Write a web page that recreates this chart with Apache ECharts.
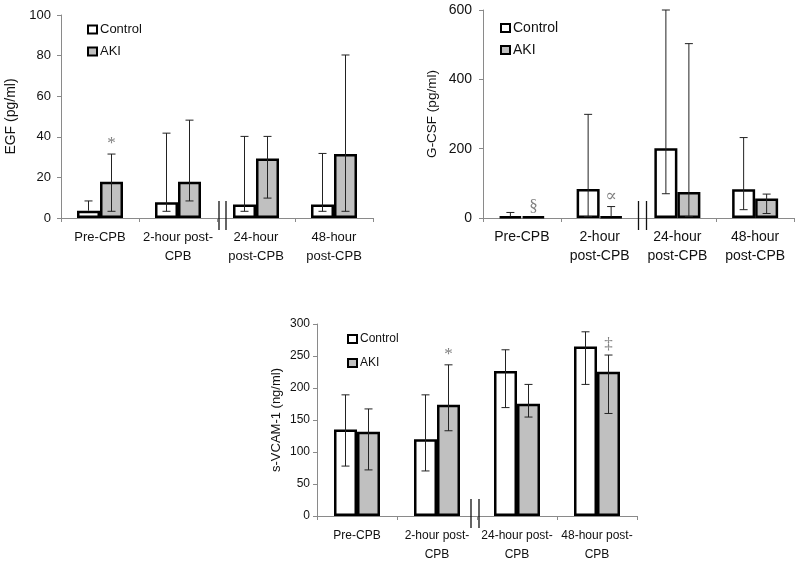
<!DOCTYPE html>
<html>
<head>
<meta charset="utf-8">
<script src="https://cdn.jsdelivr.net/npm/echarts@6/dist/echarts.min.js"></script>
<style>
  html, body { margin: 0; padding: 0; background: #fff; }
  #main { width: 800px; height: 564px; }
</style>
</head>
<body>
<div id="main"></div>
<script>
// ---- data ----
var egfCategories = ['Pre-CPB', '2-hour post-\nCPB', '24-hour\npost-CPB', '48-hour\npost-CPB'];
var egfControl   = [3.6, 7.7, 6.6, 6.6];
var egfControlLo = [null, 3.3, 3.3, 3.3];
var egfControlHi = [8.4, 41.8, 40.2, 31.8];
var egfAki   = [17.9, 17.9, 29.3, 31.5];
var egfAkiLo = [3.3, 8.4, 9.8, 3.3];
var egfAkiHi = [31.5, 48.2, 40.2, 80.3];
var egfMarks = ['*', '', '', ''];
var egfTicks = [0, 100, 20];

var gcsfCategories = ['Pre-CPB', '2-hour\npost-CPB', '24-hour\npost-CPB', '48-hour\npost-CPB'];
var gcsfControl   = [4, 84, 201, 83];
var gcsfControlLo = [null, 4, 70, 24];
var gcsfControlHi = [16, 299, 600, 232];
var gcsfAki   = [4, 4, 75, 56];
var gcsfAkiLo = [null, null, 4, 13];
var gcsfAkiHi = [null, 33, 503, 69];
var gcsfMarks = ['\u00a7', '\u221d', '', ''];
var gcsfTicks = [0, 600, 200];

var vcamCategories = ['Pre-CPB', '2-hour post-\nCPB', '24-hour post-\nCPB', '48-hour post-\nCPB'];
var vcamControl   = [135, 120, 226.5, 265];
var vcamControlLo = [78, 70.4, 169.4, 205.6];
var vcamControlHi = [189.3, 189.3, 259.7, 287.8];
var vcamAki   = [131.6, 174, 175.5, 225.5];
var vcamAkiLo = [72, 133.2, 154.6, 160.2];
var vcamAkiHi = [167.3, 236.2, 205.6, 251.5];
var vcamMarks = ['', '*', '', '\u2021'];
var vcamTicks = [0, 300, 50];

var FONT = '"Liberation Sans", Arial, sans-serif';
var BAR_W = 23;

var panels = [
    { cats: egfCategories, c: egfControl, cLo: egfControlLo, cHi: egfControlHi,
      a: egfAki, aLo: egfAkiLo, aHi: egfAkiHi, marks: egfMarks, ticks: egfTicks,
      name: 'EGF (pg/ml)', grid: { left: 61, top: 15, width: 312, height: 203 },
      fs: 13, nameFs: 14, yMargin: 10, nameGap: 43, legend: { left: 82, top: 18 }, legendGap: 9, breakOff: [2, 9] },
    { cats: gcsfCategories, c: gcsfControl, cLo: gcsfControlLo, cHi: gcsfControlHi,
      a: gcsfAki, aLo: gcsfAkiLo, aHi: gcsfAkiHi, marks: gcsfMarks, ticks: gcsfTicks,
      name: 'G-CSF (pg/ml)', grid: { left: 483, top: 10, width: 311, height: 208 },
      fs: 14, nameFs: 13.5, yMargin: 11, nameGap: 44, legend: { left: 495, top: 16 }, legendGap: 8, breakOff: [0, 8] },
    { cats: vcamCategories, c: vcamControl, cLo: vcamControlLo, cHi: vcamControlHi,
      a: vcamAki, aLo: vcamAkiLo, aHi: vcamAkiHi, marks: vcamMarks, ticks: vcamTicks,
      name: 's-VCAM-1 (ng/ml)', grid: { left: 317, top: 324, width: 320, height: 195 },
      fs: 12, nameFs: 13, yMargin: 7, nameGap: 34, legend: { left: 342, top: 328 }, legendGap: 12, breakOff: [-6, 2] }
];

function errorBars(p, k, vals, lo, hi, side) {
    return {
        type: 'custom', xAxisIndex: k, yAxisIndex: k, z: 5, silent: true,
        data: vals.map(function (v, i) { return [i, v]; }),
        renderItem: function (params, api) {
            var i = params.dataIndex;
            if (hi[i] == null) return null;
            var dx = side * BAR_W / 2;
            var top = api.coord([i, hi[i]]);
            var bot = api.coord([i, lo[i] == null ? vals[i] : lo[i]]);
            var x = top[0] + dx;
            var st = { stroke: '#222', lineWidth: 1 };
            var kids = [
                { type: 'line', shape: { x1: x, y1: top[1], x2: x, y2: bot[1] }, style: st },
                { type: 'line', shape: { x1: x - 4, y1: top[1], x2: x + 4, y2: top[1] }, style: st }
            ];
            if (lo[i] != null) {
                kids.push({ type: 'line', shape: { x1: x - 4, y1: bot[1], x2: x + 4, y2: bot[1] }, style: st });
            }
            return { type: 'group', children: kids };
        }
    };
}

function markSeries(p, k) {
    return {
        type: 'custom', xAxisIndex: k, yAxisIndex: k, z: 6, silent: true,
        data: p.marks.map(function (m, i) { return [i, p.a[i]]; }),
        renderItem: function (params, api) {
            var i = params.dataIndex;
            if (!p.marks[i]) return null;
            var top = p.aHi[i] == null ? p.a[i] : p.aHi[i];
            var pt = api.coord([i, top]);
            return {
                type: 'text',
                style: {
                    text: p.marks[i], x: pt[0] + BAR_W / 2, y: pt[1] - 2,
                    align: 'center', verticalAlign: 'bottom',
                    fontFamily: '"Liberation Serif", "DejaVu Serif", serif',
                    fontSize: 17, fill: '#808080'
                }
            };
        }
    };
}

function breakSeries(p, k) {
    return {
        type: 'custom', xAxisIndex: k, yAxisIndex: k, z: 7, silent: true,
        data: [[0, 0]],
        renderItem: function (params, api) {
            var a = api.coord([1, 0]);
            var b = api.coord([2, 0]);
            var mx = (a[0] + b[0]) / 2;
            var st = { stroke: '#111', lineWidth: 1.3 };
            return {
                type: 'group',
                children: p.breakOff.map(function (o) {
                    return { type: 'line', shape: { x1: mx + o, y1: a[1] - 17, x2: mx + o, y2: a[1] + 12 }, style: st };
                })
            };
        }
    };
}

var grid = [], xAxis = [], yAxis = [], legend = [], series = [];

panels.forEach(function (p, k) {
    grid.push(p.grid);
    xAxis.push({
        type: 'category', gridIndex: k, data: p.cats,
        axisLine: { lineStyle: { color: '#8a8a8a', width: 1 } },
        axisTick: { show: true, length: 4, lineStyle: { color: '#8a8a8a' } },
        axisLabel: { color: '#111', fontFamily: FONT, fontSize: p.fs, lineHeight: 19, margin: 10, interval: 0 }
    });
    yAxis.push({
        type: 'value', gridIndex: k, min: p.ticks[0], max: p.ticks[1], interval: p.ticks[2],
        name: p.name, nameLocation: 'middle', nameGap: p.nameGap, nameRotate: 90,
        nameTextStyle: { color: '#111', fontFamily: FONT, fontSize: p.nameFs },
        axisLine: { show: true, lineStyle: { color: '#8a8a8a', width: 1 } },
        axisTick: { show: true, length: 4, lineStyle: { color: '#8a8a8a' } },
        axisLabel: { color: '#111', fontFamily: FONT, fontSize: p.fs, margin: p.yMargin },
        splitLine: { show: false }
    });
    legend.push({
        left: p.legend.left, top: p.legend.top, orient: 'vertical',
        data: ['Control', 'AKI'], itemWidth: 9, itemHeight: 8, itemGap: p.legendGap,
        icon: 'rect', selectedMode: false,
        textStyle: { color: '#111', fontFamily: FONT, fontSize: p.fs, padding: [0, 0, 0, -2] }
    });
    series.push({
        name: 'Control', type: 'bar', xAxisIndex: k, yAxisIndex: k, data: p.c,
        barWidth: BAR_W, barGap: '0%', silent: true,
        itemStyle: { color: '#ffffff', borderColor: '#000', borderWidth: 2.5 }
    });
    series.push({
        name: 'AKI', type: 'bar', xAxisIndex: k, yAxisIndex: k, data: p.a,
        barWidth: BAR_W, barGap: '0%', silent: true,
        itemStyle: { color: '#c0c0c0', borderColor: '#000', borderWidth: 2.5 }
    });
    series.push(errorBars(p, k, p.c, p.cLo, p.cHi, -1));
    series.push(errorBars(p, k, p.a, p.aLo, p.aHi, 1));
    series.push(markSeries(p, k));
    series.push(breakSeries(p, k));
});

var chart = echarts.init(document.getElementById('main'), null, { renderer: 'canvas' });
chart.setOption({
    animation: false,
    backgroundColor: '#fff',
    grid: grid,
    xAxis: xAxis,
    yAxis: yAxis,
    legend: legend,
    series: series
});
</script>
</body>
</html>
